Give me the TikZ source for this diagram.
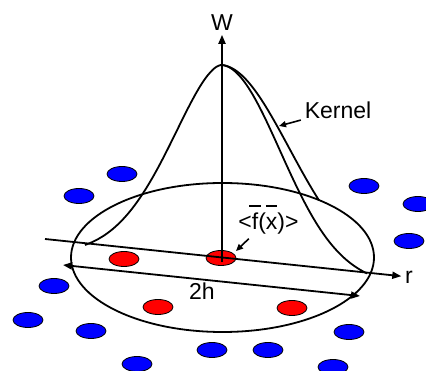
\documentclass[tikz,border=0pt]{standalone}
\usepackage{fontspec}
\setmainfont{Liberation Sans}
\usepackage{tikz}
\usetikzlibrary{positioning, arrows.meta, shapes.geometric}
\definecolor{insideRed}{HTML}{FF0000}
\definecolor{outsideBlue}{HTML}{0000FF}
\newlength{\barwd}
\newcommand{\barred}[1]{\settowidth{\barwd}{#1}\makebox[\barwd]{\rule[1.02em]{0.5em}{1.8pt}}\hspace{-\barwd}#1}

\begin{document}
\begin{tikzpicture}[x=1pt, y=-1pt, line width=1.8pt,
    every node/.style={font=\fontsize{23}{27}\selectfont, inner sep=3pt},
    particle/.style={ellipse, draw=black, line width=0.8pt, inner sep=0pt,
                     minimum width=30pt, minimum height=15pt},
    inside/.style={particle, fill=insideRed},
    outside/.style={particle, fill=outsideBlue},
    axis/.style={-{Triangle[length=9pt, width=7pt]}},
    pointer/.style={-{Triangle[length=7pt, width=6pt]}, line width=1.6pt}]
  \useasboundingbox (0,0) rectangle (426,371);

  % particles outside the support
  \foreach \px/\py in {122/174, 79/196, 364/186, 418/204, 409/241, 54/286,
                       28/320, 91/331, 137/364, 212/350, 268/350, 349/332, 333/367}
    \node[outside] at (\px,\py) {};
  % particles inside the support
  \node[inside] (mid) at (221,258) {};
  \node[inside] (in1) at (124,259) {};
  \node[inside] (in2) at (158,307) {};
  \node[inside] (in3) at (292,308) {};

  % support domain
  \draw (222.5,257.5) ellipse [x radius=151.5pt, y radius=74.5pt];

  % kernel profile, measured from the r axis
  \draw plot[domain=85:221.9, samples=90]
      (\x, {239+(\x-45)*0.107-192.9*(exp(-pow((222-\x)/76,1.7))-0.0739)/0.9261})
    -- plot[domain=222:367, samples=90]
      (\x, {239+(\x-45)*0.107-192.9*(exp(-((\x-222)/82)^2)-0.0438)/0.9562});
  \draw plot[domain=222:319, samples=70]
      (\x, {239+(\x-45)*0.107-192.9*exp(-((\x-222)/95)^2)});

  % axes
  \coordinate (origin) at (222,262);
  \coordinate (rstart) at (45,239);
  \node (wlab) at (222,23) {W};
  \node (rlab) at (409,277) {r};
  \draw[axis] (origin) -- (wlab);
  \draw[axis] (rstart) -- (rlab);

  % smoothing length
  \coordinate (hleft) at (63,265);
  \coordinate (hright) at (360,296);
  \draw[{Triangle[length=9pt, width=7pt]}-{Triangle[length=9pt, width=7pt]}] (hleft) -- (hright);
  \node (twoh) at (202,291) {2h};

  % labels
  \node (kernel) at (338,110) {Kernel};
  \coordinate (kerneltip) at (279,126);
  \draw[pointer] (kernel) -- (kerneltip);
  \node[anchor=base] (fbar) at (268.5,230) {<\barred{f}(\barred{x})>};
  \coordinate (fbartip) at (236,251);
  \draw[pointer] (fbar) -- (fbartip);
\end{tikzpicture}
\end{document}
